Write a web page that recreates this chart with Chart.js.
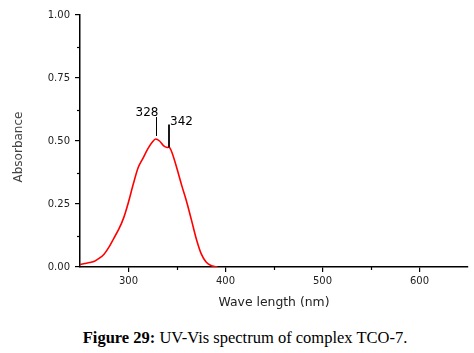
<!DOCTYPE html>
<html><head><meta charset="utf-8">
<script src="https://cdn.jsdelivr.net/npm/chart.js@4"></script>
<style>
html,body{margin:0;padding:0;background:#fff;}
#wrap{position:relative;width:474px;height:353px;}
#box{position:absolute;left:0;top:0;width:474px;height:310px;}
#cap{position:absolute;left:0;top:328px;width:490px;text-align:center;font-family:"Liberation Serif",serif;font-size:16.5px;line-height:19px;color:#000;white-space:nowrap;}
</style></head>
<body><div id="wrap"><div id="box"><canvas id="c"></canvas></div>
<div id="cap"><b>Figure 29:</b> UV-Vis spectrum of complex TCO-7.</div></div>
<script>
const wavelength = [250,255,260,265,270,275,280,285,290,295,300,305,310,315,320,325,328,332,336,340,342,345,350,355,360,365,370,375,380,385,390,392];
const absorbance = [0.010,0.014,0.018,0.023,0.035,0.052,0.080,0.115,0.150,0.195,0.258,0.330,0.395,0.432,0.470,0.498,0.508,0.500,0.482,0.474,0.476,0.452,0.390,0.322,0.258,0.185,0.110,0.052,0.020,0.006,0.001,0.000];
const xMajorTicks = [300,400,500,600];
const xMinorTicks = [350,450,550];
const yMajorTicks = [0,0.25,0.5,0.75,1.0];
const yMinorTicks = [0.125,0.375,0.625,0.875];
const peakLabels = ["328","342"];
const peakX = [328,342];
const yTitle = "Absorbance";

const minorPlugin = {
  id:'minor',
  afterDraw(chart){
    const ctx=chart.ctx, xs=chart.scales.x, ys=chart.scales.y, a=chart.chartArea;
    ctx.save();
    ctx.strokeStyle='#000'; ctx.lineWidth=1.2;
    xMinorTicks.forEach(v=>{const p=Math.round(xs.getPixelForValue(v))+0.5;ctx.beginPath();ctx.moveTo(p,a.bottom);ctx.lineTo(p,a.bottom+3);ctx.stroke();});
    yMinorTicks.forEach(v=>{const p=Math.round(ys.getPixelForValue(v))+0.5;ctx.beginPath();ctx.moveTo(a.left,p);ctx.lineTo(a.left-3,p);ctx.stroke();});
    // y axis title
    ctx.save();
    ctx.translate(19,(a.top+a.bottom)/2+6);
    ctx.rotate(-Math.PI/2);
    ctx.fillStyle='#444'; ctx.font='12px "DejaVu Sans"'; ctx.textAlign='center'; ctx.textBaseline='middle';
    ctx.fillText(yTitle,0,0);
    ctx.restore();
    // peak annotations
    ctx.fillStyle='#000'; ctx.font='12px "DejaVu Sans"'; ctx.textBaseline='alphabetic';
    let px=Math.round(xs.getPixelForValue(peakX[0]))+0.5;
    ctx.lineWidth=1; ctx.beginPath(); ctx.moveTo(px,ys.getPixelForValue(0.595)); ctx.lineTo(px,ys.getPixelForValue(0.52)); ctx.stroke();
    ctx.textAlign='right'; ctx.fillText(peakLabels[0],px+2,ys.getPixelForValue(0.60));
    px=Math.round(xs.getPixelForValue(peakX[1]));
    ctx.lineWidth=1.8; ctx.beginPath(); ctx.moveTo(px,ys.getPixelForValue(0.565)); ctx.lineTo(px,ys.getPixelForValue(0.475)); ctx.stroke();
    ctx.textAlign='left'; ctx.fillText(peakLabels[1],px+1,ys.getPixelForValue(0.565));
    ctx.restore();
  }
};

new Chart(document.getElementById('c'),{
  type:'line',
  data:{datasets:[{data:wavelength.map((x,i)=>({x:x,y:absorbance[i]})),borderColor:'#ff0000',borderWidth:1.6,pointRadius:0,tension:0.3,fill:false}]},
  options:{
    responsive:true,maintainAspectRatio:false,animation:false,
    layout:{padding:{top:15,right:6,left:0,bottom:0}},
    plugins:{legend:{display:false},tooltip:{enabled:false}},
    scales:{
      x:{type:'linear',min:250,max:650,
        afterBuildTicks:ax=>{ax.ticks=xMajorTicks.map(v=>({value:v}));},
        afterFit:ax=>{ax.height=43;},
        grid:{display:true,drawOnChartArea:false,drawTicks:true,tickLength:5,color:'#000',lineWidth:1.2},
        border:{display:true,color:'#000',width:1.5},
        ticks:{color:'#222',font:{family:'DejaVu Sans',size:10},padding:3,maxRotation:0,callback:v=>String(v)},
        title:{display:true,text:'Wave length (nm)',color:'#222',font:{family:'DejaVu Sans',size:12.4},padding:{top:0,bottom:0}}
      },
      y:{type:'linear',min:0,max:1,
        afterBuildTicks:ax=>{ax.ticks=yMajorTicks.map(v=>({value:v}));},
        afterFit:ax=>{ax.width=80;},
        grid:{display:true,drawOnChartArea:false,drawTicks:true,tickLength:5,color:'#000',lineWidth:1.2},
        border:{display:true,color:'#000',width:1.5},
        ticks:{color:'#222',font:{family:'DejaVu Sans',size:10},padding:5,callback:v=>v.toFixed(2)},
        title:{display:false}
      }
    }
  },
  plugins:[minorPlugin]
});
</script></body></html>
